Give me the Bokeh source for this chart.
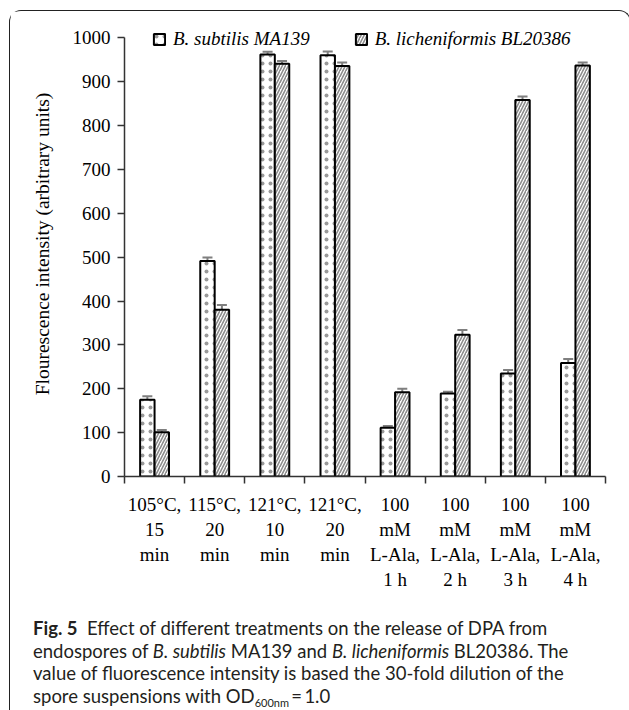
from bokeh.plotting import figure
from bokeh.models import (ColumnDataSource, FixedTicker, Whisker, TeeHead, Legend,
                          LegendItem, Div, Range1d)
from bokeh.layouts import column
from bokeh.embed import file_html
from bokeh.resources import INLINE

# ---- data ----
categories = ["105°C,\n15\nmin", "115°C,\n20\nmin", "121°C,\n10\nmin", "121°C,\n20\nmin",
              "100\nmM\nL-Ala,\n1 h", "100\nmM\nL-Ala,\n2 h", "100\nmM\nL-Ala,\n3 h",
              "100\nmM\nL-Ala,\n4 h"]
subtilis = [175, 491, 962, 960, 111, 189, 235, 259]
subtilis_err = [8, 8, 6, 9, 4, 4, 8, 9]
lichen = [101, 380, 941, 936, 192, 323, 858, 937]
lichen_err = [5, 11, 6, 8, 8, 11, 8, 7]
y_ticks = list(range(0, 1001, 100))
series_names = ["B. subtilis MA139", "B. licheniformis BL20386"]

BAR_W = 0.24
centers = [i + 0.5 for i in range(len(categories))]

src_s = ColumnDataSource(dict(
    x=[c - BAR_W / 2 for c in centers], top=subtilis,
    upper=[v + e for v, e in zip(subtilis, subtilis_err)],
    lower=[v - e for v, e in zip(subtilis, subtilis_err)]))
src_l = ColumnDataSource(dict(
    x=[c + BAR_W / 2 for c in centers], top=lichen,
    upper=[v + e for v, e in zip(lichen, lichen_err)],
    lower=[v - e for v, e in zip(lichen, lichen_err)]))

SERIF = "Liberation Serif"
FS = "19px"

p = figure(width=610, height=582, x_range=Range1d(0, len(categories)),
           y_range=Range1d(0, 1060), output_backend="svg", toolbar_location=None,
           min_border_left=114, min_border_right=15, min_border_top=0,
           min_border_bottom=105)
p.xgrid.visible = False
p.ygrid.visible = False
p.outline_line_color = None
p.background_fill_color = "white"
p.border_fill_color = "white"

r1 = p.vbar(x="x", top="top", width=BAR_W, source=src_s, fill_color="white",
            line_color="black", line_width=2, hatch_pattern="dot",
            hatch_color="#9a9a9a", hatch_scale=8, hatch_weight=1.2)
r2 = p.vbar(x="x", top="top", width=BAR_W, source=src_l, fill_color="white",
            line_color="black", line_width=2, hatch_pattern="right_diagonal_line",
            hatch_color="#8c8c8c", hatch_scale=6, hatch_weight=1.6)

for src in (src_s, src_l):
    w = Whisker(base="x", upper="upper", lower="lower", source=src,
                line_color="#7f7f7f", line_width=2,
                upper_head=TeeHead(size=10, line_color="#7f7f7f", line_width=2),
                lower_head=TeeHead(size=10, line_color="#7f7f7f", line_width=2))
    p.add_layout(w)

# x axis: labels at centers, tick marks at category boundaries
xa = p.xaxis[0]
xa.ticker = FixedTicker(ticks=centers, minor_ticks=list(range(len(categories) + 1)))
xa.major_label_overrides = {c: lab for c, lab in zip(centers, categories)}
xa.major_tick_out = 0
xa.major_tick_in = 0
xa.minor_tick_out = 7
xa.minor_tick_in = 0
xa.minor_tick_line_color = "#333333"
xa.minor_tick_line_width = 1.5
xa.axis_line_color = "#333333"
xa.axis_line_width = 1.5
xa.major_label_text_font = SERIF
xa.major_label_text_font_size = FS
xa.major_label_text_color = "black"
xa.major_label_standoff = 10

ya = p.yaxis[0]
ya.ticker = FixedTicker(ticks=y_ticks)
ya.bounds = (0, 1000)
ya.minor_tick_line_color = None
ya.major_tick_out = 7
ya.major_tick_in = 0
ya.major_tick_line_color = "#333333"
ya.major_tick_line_width = 1.5
ya.axis_line_color = "#333333"
ya.axis_line_width = 1.5
ya.major_label_text_font = SERIF
ya.major_label_text_font_size = FS
ya.major_label_text_color = "black"
ya.major_label_standoff = 7
ya.axis_label = "Flourescence intensity (arbitrary units)"
ya.axis_label_text_font = SERIF
ya.axis_label_text_font_size = "19.5px"
ya.axis_label_text_font_style = "normal"
ya.axis_label_text_color = "black"
ya.axis_label_standoff = 17

legend = Legend(items=[LegendItem(label=series_names[0], renderers=[r1]),
                       LegendItem(label=series_names[1], renderers=[r2])],
                orientation="horizontal", location=(28, 426),
                glyph_width=14, glyph_height=14, label_height=20,
                label_standoff=7, spacing=44, padding=0, margin=0,
                border_line_alpha=0, background_fill_alpha=0,
                label_text_font=SERIF, label_text_font_style="italic",
                label_text_font_size=FS, label_text_color="black")
p.add_layout(legend)

caption_html = (
    '<div style="padding-left:18px; padding-top:19px; white-space:nowrap;">'
    '<b>Fig. 5</b>&nbsp; Effect of different treatments on the release of DPA from<br>'
    'endospores of <i>B. subtilis</i> MA139 and <i>B. licheniformis</i> BL20386. The<br>'
    'value of fluorescence intensity is based the 30-fold dilution of the<br>'
    'spore suspensions with OD<sub style="font-size:11px; line-height:0; '
    'vertical-align:-4px;">600nm</sub>&thinsp;=&thinsp;1.0</div>'
)
caption = Div(text=caption_html, width=610, height=114,
              styles={"font-family": "Lato, sans-serif", "font-size": "18.5px",
                      "line-height": "22.5px", "color": "#231f20",
                      "overflow": "hidden"})

layout = column(p, caption, spacing=0, margin=(10, 0, 0, 9),
                styles={"border": "1.5px solid #222", "border-bottom": "none",
                        "border-radius": "12px 12px 0 0", "background": "white"})

open("out.html", "w").write(file_html(layout, INLINE))
